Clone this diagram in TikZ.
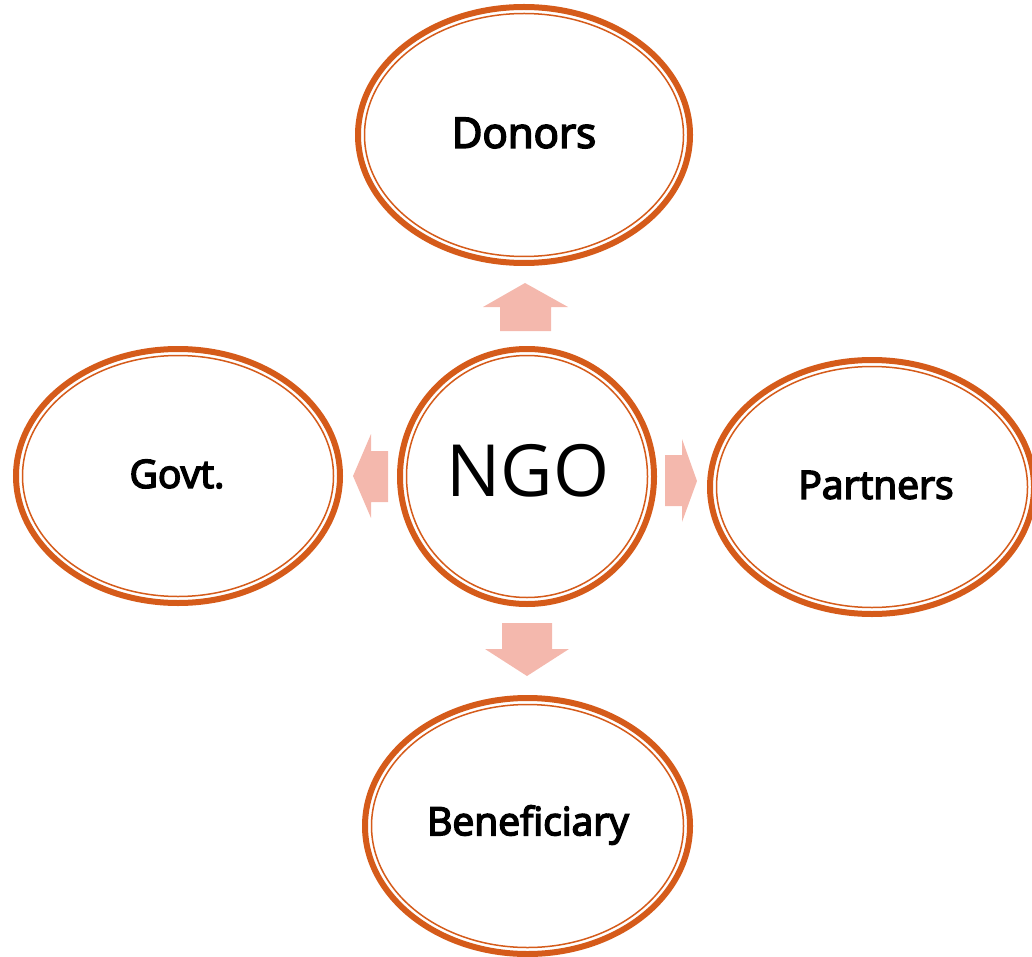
\documentclass[tikz,border=0pt]{standalone}
\usepackage{fontspec}
\setmainfont{Open Sans}
\newfontfamily\semifont[FakeBold=4]{Open Sans}
\usetikzlibrary{shapes.geometric}
\definecolor{ringorange}{RGB}{213,91,26}
\definecolor{arrowpink}{RGB}{244,184,173}
\tikzset{
  ring/.style={ellipse, draw=ringorange, line width=6pt, fill=white, inner sep=0pt},
  innerring/.style={draw=ringorange, line width=1.5pt},
  lab/.style={font=\semifont\fontsize{39}{39}\selectfont},
  blockarrow/.style={fill=arrowpink, draw=none}
}
\begin{document}
\begin{tikzpicture}[x=1pt,y=-1pt]
\useasboundingbox (0,0) rectangle (1032,957);
\clip (0,0) rectangle (1032,957);
% outer rings
\node[ring, minimum width=332pt, minimum height=256pt] (donors) at (524,135) {};
\node[ring, minimum width=324pt, minimum height=254pt] (govt) at (178,476) {};
\node[ring, minimum width=324pt, minimum height=254pt] (partners) at (872,487) {};
\node[ring, minimum width=325pt, minimum height=256pt] (benef) at (527.5,826) {};
\node[ring, minimum width=254pt, minimum height=255pt] (ngo) at (527,476.5) {};
% inner rings
\draw[innerring] (donors.center) ellipse (159.5 and 121.5);
\draw[innerring] (govt.center) ellipse (155.5 and 120.5);
\draw[innerring] (partners.center) ellipse (155.5 and 120.5);
\draw[innerring] (benef.center) ellipse (156 and 121.5);
\draw[innerring] (ngo.center) ellipse (120.5 and 121);
% labels
\node[lab, font=\semifont\fontsize{42}{42}\selectfont] (tdonors) at (524,133) {Donors};
\node[lab] (tgovt) at (177,474) {Govt.};
\node[lab] (tpartners) at (876,485) {Partners};
\node[lab] (tbenef) at (528,825) {Beneficiary};
\node[font=\fontsize{72}{72}\selectfont] (tngo) at (528,471) {NGO};
% block arrows
\fill[blockarrow] (500,331) -- (500,307) -- (483,307) -- (525,283) -- (568,307) -- (551,307) -- (551,331) -- cycle;
\fill[blockarrow] (502,623) -- (552,623) -- (552,649) -- (569,649) -- (527,676) -- (485,649) -- (502,649) -- cycle;
\fill[blockarrow] (388,451) -- (371,451) -- (371,434) -- (353,476) -- (371,518) -- (371,502) -- (388,502) -- cycle;
\fill[blockarrow] (665,455) -- (682,455) -- (682,439) -- (697,481) -- (682,522) -- (682,506) -- (665,506) -- cycle;
\end{tikzpicture}
\end{document}
